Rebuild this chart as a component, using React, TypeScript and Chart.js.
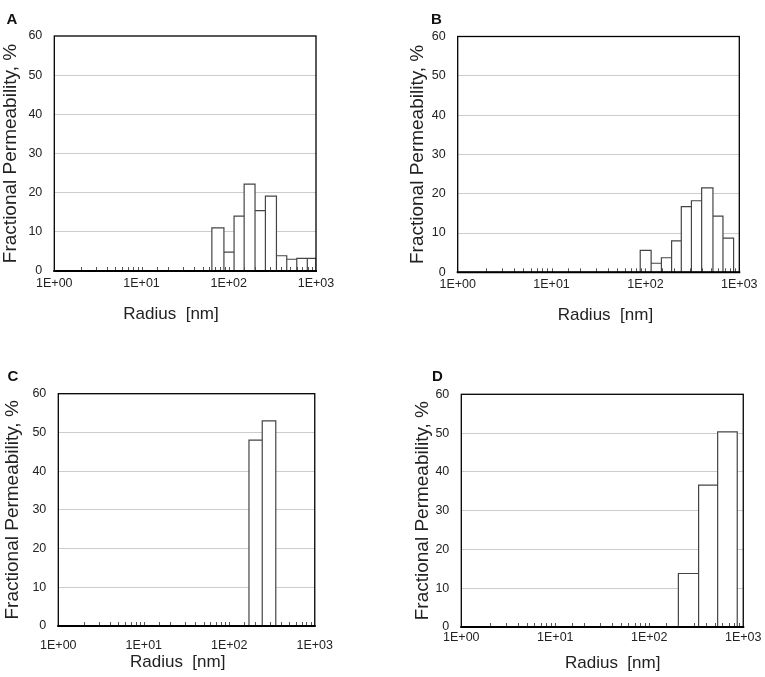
import React, { useEffect, useRef } from 'react';
import { Chart, registerables } from 'chart.js';

Chart.register(...registerables);

Chart.defaults.font.family = "'Liberation Sans', Arial, sans-serif";
Chart.defaults.color = '#222';

// bin edges (radius, nm) and fractional permeability (%)
const edgesA = [64, 88, 115, 150, 200, 263, 352, 462, 602, 795, 1000];
const permA = [11.0, 4.8, 14.0, 22.2, 15.4, 19.1, 3.9, 3.0, 3.2, 3.2];

const edgesB = [88, 115, 148, 190, 241, 309, 397, 524, 670, 869];
const permB = [5.6, 2.3, 3.7, 8.0, 16.7, 18.2, 21.5, 14.3, 8.7];

const edgesC = [170, 243, 350];
const permC = [48.0, 53.0];

const edgesD = [204, 335, 534, 863];
const permD = [13.8, 36.6, 50.3];

const xMajorLabels = ['1E+00', '1E+01', '1E+02', '1E+03'];
const yMax = 60;
const yStep = 10;

const FONT = "'Liberation Sans', Arial, sans-serif";

// outline of each bin as a closed step path, so every bar keeps its own sides
function histogramPoints(edges: number[], values: number[]) {
  const pts: { x: number; y: number }[] = [];
  values.forEach((v, i) => {
    pts.push({ x: edges[i], y: 0 });
    pts.push({ x: edges[i], y: v });
    pts.push({ x: edges[i + 1], y: v });
    pts.push({ x: edges[i + 1], y: 0 });
  });
  return pts;
}

// plot frame plus the small inward tick marks on the log axis
const framePlugin = {
  id: 'frame',
  afterDatasetsDraw(chart: any) {
    const { ctx, chartArea: a, scales } = chart;
    const x = scales.x;
    ctx.save();
    ctx.strokeStyle = '#555';
    ctx.lineWidth = 1;
    ctx.beginPath();
    x.ticks.forEach((t: any) => {
      if (t.value <= x.min || t.value >= x.max) return;
      const px = Math.round(x.getPixelForValue(t.value)) + 0.5;
      ctx.moveTo(px, a.bottom);
      ctx.lineTo(px, a.bottom - 4);
    });
    ctx.stroke();
    ctx.strokeStyle = '#000';
    ctx.lineWidth = 1.3;
    ctx.strokeRect(a.left, a.top, a.right - a.left, a.bottom - a.top);
    ctx.lineWidth = 2;
    ctx.beginPath();
    ctx.moveTo(a.left - 1, a.bottom);
    ctx.lineTo(a.right + 1, a.bottom);
    ctx.stroke();
    ctx.restore();
  }
};

interface PanelProps {
  letter: string;
  edges: number[];
  values: number[];
  left: number;
  top: number;
  width: number;
  height: number;
  yAxisWidth: number;
  padTop: number;
  padRight: number;
  xAxisHeight: number;
  yTitleCenter: number;
  xTickPad: number;
  xTitleLeft: number;
  xTitleCap: number;
  letterLeft: number;
  letterCap: number;
}

const Panel: React.FC<PanelProps> = (p) => {
  const chartRef = useRef<HTMLCanvasElement | null>(null);
  const chartInstance = useRef<Chart | null>(null);

  useEffect(() => {
    if (!chartRef.current) return;
    if (chartInstance.current) chartInstance.current.destroy();
    const ctx = chartRef.current.getContext('2d');
    if (!ctx) return;

    chartInstance.current = new Chart(ctx, {
      type: 'scatter',
      data: {
        datasets: [
          {
            data: histogramPoints(p.edges, p.values),
            showLine: true,
            tension: 0,
            pointRadius: 0,
            borderColor: '#444',
            borderWidth: 1.2,
            backgroundColor: '#ffffff',
            fill: 'origin'
          }
        ]
      },
      options: {
        animation: false,
        responsive: true,
        maintainAspectRatio: false,
        layout: { padding: { left: 0, top: p.padTop, right: p.padRight, bottom: 0 } },
        plugins: { legend: { display: false }, tooltip: { enabled: false } },
        scales: {
          x: {
            type: 'logarithmic',
            min: 1,
            max: 1000,
            afterFit: (s: any) => { s.height = p.xAxisHeight; },
            grid: { display: false, drawTicks: false },
            border: { display: false },
            ticks: {
              autoSkip: false,
              maxRotation: 0,
              padding: p.xTickPad,
              color: '#222',
              font: { size: 12.5, family: FONT },
              callback: (v: any) => {
                const e = Math.round(Math.log10(Number(v)));
                return Math.abs(Number(v) - Math.pow(10, e)) < 1e-6 ? xMajorLabels[e] : '';
              }
            }
          },
          y: {
            min: 0,
            max: yMax,
            afterFit: (s: any) => { s.width = p.yAxisWidth; },
            grid: {
              drawTicks: false,
              color: (c: any) => (c.tick.value === 0 || c.tick.value === yMax ? 'rgba(0,0,0,0)' : '#cccccc'),
              lineWidth: 1
            },
            border: { display: false },
            ticks: { stepSize: yStep, padding: 12, color: '#222', font: { size: 12.5, family: FONT } },
            title: {
              display: true,
              text: 'Fractional Permeability, %',
              color: '#222',
              font: { size: 19, family: FONT },
              padding: { top: p.yTitleCenter - 11.4, bottom: 0 }
            }
          }
        }
      },
      plugins: [framePlugin]
    });

    return () => {
      if (chartInstance.current) {
        chartInstance.current.destroy();
        chartInstance.current = null;
      }
    };
  }, [p.edges, p.values]);

  return (
    <>
      <div style={{ position: 'absolute', left: p.left, top: p.top, width: p.width, height: p.height }}>
        <canvas ref={chartRef} />
      </div>
      <div
        style={{
          position: 'absolute', left: p.letterLeft, top: p.letterCap - 2,
          font: `bold 15px ${FONT}`, lineHeight: '15px', color: '#111'
        }}
      >
        {p.letter}
      </div>
      <div
        style={{
          position: 'absolute', left: p.xTitleLeft, top: p.xTitleCap - 2.2,
          font: `17px ${FONT}`, lineHeight: '17px', color: '#222', whiteSpace: 'pre'
        }}
      >
        {'Radius  [nm]'}
      </div>
    </>
  );
};

export default function App() {
  return (
    <div style={{ position: 'fixed', left: 0, top: 0, width: 765, height: 677, background: '#fff', overflow: 'hidden' }}>
      <Panel letter="A" edges={edgesA} values={permA}
        left={0} top={16} width={345} height={314}
        yAxisWidth={54.3} padTop={20} padRight={29} xAxisHeight={59}
        yTitleCenter={10.5} xTickPad={5} xTitleLeft={123.3} xTitleCap={306.7}
        letterLeft={6.5} letterCap={12.5} />
      <Panel letter="B" edges={edgesB} values={permB}
        left={405} top={16} width={360} height={314}
        yAxisWidth={52.7} padTop={20.5} padRight={25.7} xAxisHeight={57.7}
        yTitleCenter={13} xTickPad={5} xTitleLeft={557.7} xTitleCap={308}
        letterLeft={431} letterCap={12.5} />
      <Panel letter="C" edges={edgesC} values={permC}
        left={0} top={374} width={345} height={300}
        yAxisWidth={58.3} padTop={19.7} padRight={22.7} xAxisHeight={48}
        yTitleCenter={12.5} xTickPad={12} xTitleLeft={130} xTitleCap={655}
        letterLeft={7.5} letterCap={369.5} />
      <Panel letter="D" edges={edgesD} values={permD}
        left={405} top={374} width={360} height={300}
        yAxisWidth={56.3} padTop={20.3} padRight={21.7} xAxisHeight={47}
        yTitleCenter={18} xTickPad={3.5} xTitleLeft={565} xTitleCap={655.7}
        letterLeft={432} letterCap={369.5} />
    </div>
  );
}
